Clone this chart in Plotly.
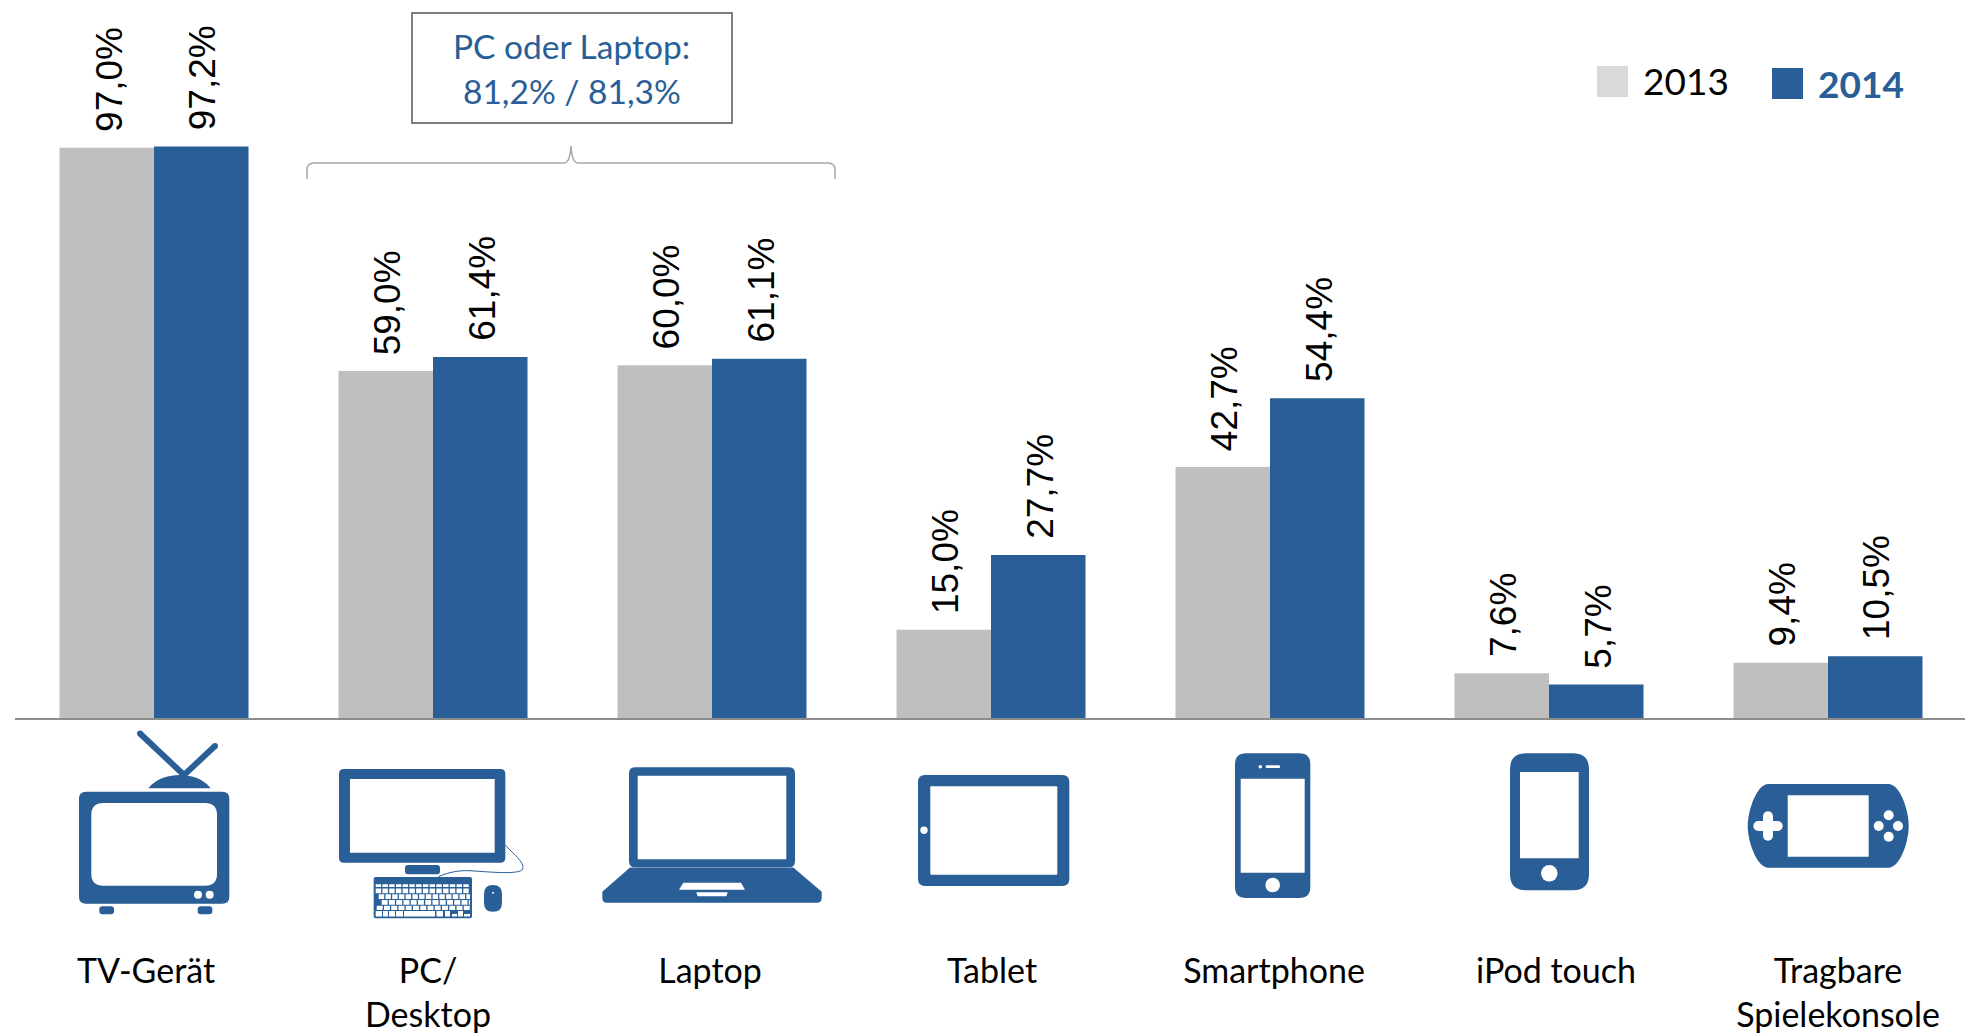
import plotly.graph_objects as go

categories = ["TV-Gerät", "PC/<br>Desktop", "Laptop", "Tablet", "Smartphone", "iPod touch", "Tragbare<br>Spielekonsole"]
values_2013 = [97.0, 59.0, 60.0, 15.0, 42.7, 7.6, 9.4]
values_2014 = [97.2, 61.4, 61.1, 27.7, 54.4, 5.7, 10.5]
series_names = ["2013", "2014"]
box_lines = ["PC oder Laptop:", "81,2% / 81,3%"]

BLUE = "#295E97"
GREY = "#BFBFBF"
W, H = 1965, 1033
L, B_Y = 15, 718          # plot-area left edge and baseline, px
PX_PER_UNIT = 5.88
CENTER0, STEP = 154.0, 279.0
LABEL0, LABEL_STEP = 146.0, 282.0


def fx(x):
    return (x - L) / (W - L)


def fy(y):
    return 1 - y / B_Y


def path(*items):
    out = []
    for it in items:
        if isinstance(it, str):
            out.append(it)
        else:
            out.append(f"{fx(it[0]):.5f},{fy(it[1]):.5f}")
    return " ".join(out)


def rrect(x0, y0, x1, y1, r=0):
    if r == 0:
        return path("M", (x0, y0), "L", (x1, y0), "L", (x1, y1), "L", (x0, y1), "Z")
    return path("M", (x0 + r, y0), "L", (x1 - r, y0), "Q", (x1, y0), (x1, y0 + r),
                "L", (x1, y1 - r), "Q", (x1, y1), (x1 - r, y1),
                "L", (x0 + r, y1), "Q", (x0, y1), (x0, y1 - r),
                "L", (x0, y0 + r), "Q", (x0, y0), (x0 + r, y0), "Z")


def poly(*pts):
    items = ["M", pts[0]]
    for p in pts[1:]:
        items += ["L", p]
    return path(*items, "Z")


shapes = []


def fill(p, color=BLUE):
    shapes.append(dict(type="path", xref="paper", yref="paper", path=p, fillcolor=color, line=dict(width=0)))


def circle(cx, cy, r, color="white"):
    shapes.append(dict(type="circle", xref="paper", yref="paper", x0=fx(cx - r), x1=fx(cx + r),
                       y0=fy(cy + r), y1=fy(cy - r), fillcolor=color, line=dict(width=0)))


def capsule(x0, y0, x1, y1, w, color=BLUE):
    dx, dy = x1 - x0, y1 - y0
    n = (dx * dx + dy * dy) ** 0.5
    nx, ny = -dy / n * w / 2, dx / n * w / 2
    fill(poly((x0 + nx, y0 + ny), (x1 + nx, y1 + ny), (x1 - nx, y1 - ny), (x0 - nx, y0 - ny)), color)
    circle(x0, y0, w / 2, color)
    circle(x1, y1, w / 2, color)


# TV
capsule(140, 733.5, 184, 775, 6)
capsule(215, 746, 184, 775, 6)
fill(path("M", (148.3, 788.3), "C", (156, 778), (170, 775), (179.5, 775), "C", (190, 775), (203, 778), (210.7, 788.3), "Z"))
fill(rrect(79, 791.7, 229.3, 903.7, 7))
fill(rrect(91.3, 803, 217, 885.7, 12), "white")
circle(198, 894.7, 4)
circle(209.7, 894.7, 4)
fill(rrect(99.3, 906.3, 114, 914.3, 3))
fill(rrect(197.7, 906.3, 212.3, 914.3, 3))

# PC
fill(rrect(339, 769, 505.3, 862.7, 5))
fill(rrect(350, 779, 494.7, 852.7), "white")
fill(rrect(405, 865, 440, 874.3, 3))
fill(rrect(373.7, 877, 472, 918.3, 2))
shapes.append(dict(type="path", xref="paper", yref="paper", line=dict(color=BLUE, width=1),
                   path=path("M", (505.3, 845), "C", (512, 853), (525, 862), (522.7, 869),
                             "C", (520, 875), (490, 872), (470, 870.7), "C", (455, 870), (445, 874), (438.3, 876.7))))
fill(rrect(484, 885, 502, 911.7, 9))
circle(493, 892.7, 1)
key_rows = [(884.3, 887, 14, 0.0), (888.5, 893.3, 14, 0.0), (894.3, 899, 14, 3.0),
            (900, 904.7, 13, 6.0), (905.7, 910, 13, 1.0)]
key_parts = []
for ky0, ky1, count, off in key_rows:
    kw = (420 - 137) / 3 / count
    for k in range(count):
        kx0 = 375.7 + off + k * kw
        kx1 = min(kx0 + kw - 1.3, 470)
        key_parts.append(rrect(kx0, ky0, kx1, ky1))
key_parts.append(rrect(375.7, 911, 382, 916.5))
key_parts.append(rrect(383, 911, 388, 916.5))
key_parts.append(rrect(389, 911, 395, 916.5))
key_parts.append(rrect(396, 911, 403, 916.5))
key_parts.append(rrect(404, 911, 435, 916.5))
key_parts.append(rrect(436.5, 911, 443, 916.5))
key_parts.append(rrect(445, 911, 450, 916.5))
key_parts.append(rrect(458, 911, 463, 916.5))
key_parts.append(rrect(452, 914, 457, 916.5))
key_parts.append(rrect(464, 914, 470, 916.5))
fill(" ".join(key_parts), "white")

# Laptop
fill(rrect(629, 767.3, 795, 867.3, 6))
fill(rrect(637.7, 775.7, 786.3, 859.3), "white")
fill(path("M", (630, 867.5), "L", (793.3, 867.5), "L", (821.7, 891.7), "L", (821.7, 898), "Q", (821.7, 902.7), (816.7, 902.7),
          "L", (606.7, 902.7), "Q", (602.3, 902.7), (602.3, 898), "L", (602.3, 891.7), "Z"))
fill(poly((683.3, 882.7), (741, 882.7), (745, 889.7), (679, 889.7)), "white")
fill(poly((696.3, 892.3), (727.7, 892.3), (726.3, 896.3), (697.7, 896.3)), "white")

# Tablet
fill(rrect(918, 775, 1069.3, 886, 7))
fill(rrect(930.3, 786.3, 1057.3, 874.7, 1), "white")
circle(924, 830.3, 3.7)

# Smartphone
fill(rrect(1235, 753.3, 1310.3, 898, 11))
fill(rrect(1240.7, 778.7, 1304.7, 872.7), "white")
circle(1272.7, 885, 7.3)
circle(1260.3, 766.7, 1.8)
fill(rrect(1265.7, 765.3, 1280, 768, 1), "white")

# iPod touch
fill(rrect(1510, 753.3, 1589, 890.3, 16))
fill(rrect(1520, 772, 1578.7, 858.3), "white")
circle(1549.3, 873.3, 8.3)

# Handheld console
fill(path("M", (1768.3, 784), "L", (1888.3, 784), "C", (1900, 784), (1908.7, 810), (1908.7, 826),
          "C", (1908.7, 842), (1900, 867.7), (1888.3, 867.7), "L", (1768.3, 867.7),
          "C", (1757, 867.7), (1747.7, 842), (1747.7, 826), "C", (1747.7, 810), (1757, 784), (1768.3, 784), "Z"))
fill(rrect(1787.7, 795.3, 1868.7, 856.7), "white")
capsule(1758.3, 826, 1777.7, 826, 10, "white")
capsule(1768, 816.3, 1768, 835.7, 10, "white")
circle(1888.7, 815.3, 5)
circle(1888.7, 836.7, 5)
circle(1878.7, 826, 5)
circle(1898, 826, 5)

# Callout box and brace
shapes.append(dict(type="rect", xref="paper", yref="paper", x0=fx(412), x1=fx(732), y0=fy(123), y1=fy(13),
                   line=dict(color="#7F7F7F", width=2), fillcolor="white"))
shapes.append(dict(type="path", xref="paper", yref="paper", line=dict(color="#A6A6A6", width=1.5),
                   path=path("M", (307, 179), "L", (307, 170), "Q", (307, 163), (314, 163), "L", (564, 163),
                             "Q", (570, 163), (571, 146), "Q", (572, 163), (578, 163), "L", (828, 163),
                             "Q", (835, 163), (835, 170), "L", (835, 179))))

# Legend swatches
shapes.append(dict(type="rect", xref="paper", yref="paper", x0=fx(1597), x1=fx(1628), y0=fy(97), y1=fy(66),
                   fillcolor="#D9D9D9", line=dict(width=0)))
shapes.append(dict(type="rect", xref="paper", yref="paper", x0=fx(1772), x1=fx(1803), y0=fy(99), y1=fy(68),
                   fillcolor=BLUE, line=dict(width=0)))

positions = list(range(len(categories)))
half = 94.5 / 2 / STEP

fig = go.Figure()
fig.add_trace(go.Bar(name=series_names[0], x=positions, y=values_2013, marker=dict(color=GREY, line=dict(width=0))))
fig.add_trace(go.Bar(name=series_names[1], x=positions, y=values_2014, marker=dict(color=BLUE, line=dict(width=0))))

annotations = []
for i in positions:
    for vals, sign in ((values_2013, -1), (values_2014, 1)):
        annotations.append(dict(
            x=i + sign * half, y=vals[i], xref="x", yref="y", xshift=2, yshift=14,
            text=f"{vals[i]:.1f}%".replace(".", ","), textangle=-90, showarrow=False,
            xanchor="center", yanchor="bottom",
            font=dict(family="Liberation Sans", size=37, color="black")))

for text, yc in zip(box_lines, (46, 91)):
    annotations.append(dict(x=fx(571.5), y=fy(yc), xref="paper", yref="paper", text=text, showarrow=False,
                            xanchor="center", yanchor="middle", font=dict(family="Lato", size=33.5, color=BLUE)))
annotations.append(dict(x=fx(1640.5), y=fy(81), xref="paper", yref="paper", text=series_names[0], showarrow=False,
                        xanchor="left", yanchor="middle", font=dict(family="Lato", size=37, color="black")))
annotations.append(dict(x=fx(1815.5), y=fy(83), xref="paper", yref="paper", text=f"<b>{series_names[1]}</b>", showarrow=False,
                        xanchor="left", yanchor="middle", font=dict(family="Lato", size=37, color=BLUE)))

fig.update_layout(
    width=W, height=H, margin=dict(l=L, r=0, t=0, b=H - B_Y, autoexpand=False),
    paper_bgcolor="white", plot_bgcolor="white", showlegend=False,
    barmode="group", bargap=1 - 189 / STEP, bargroupgap=0,
    shapes=shapes, annotations=annotations,
    xaxis=dict(range=[(L - CENTER0) / STEP, (W - CENTER0) / STEP],
               tickmode="array",
               tickvals=[(LABEL0 - CENTER0 + LABEL_STEP * i) / STEP for i in positions],
               ticktext=categories, tickangle=0,
               ticks="outside", ticklen=222, tickcolor="rgba(0,0,0,0)", tickwidth=1,
               tickfont=dict(family="Lato", size=34, color="black"),
               showline=True, linecolor="#8C8C8C", linewidth=2, showgrid=False, zeroline=False),
    yaxis=dict(range=[0, B_Y / PX_PER_UNIT], visible=False),
)

fig.write_html("out.html", config=dict(displayModeBar=False),
               post_script="document.body.style.margin='0';document.documentElement.style.overflow='hidden';")
